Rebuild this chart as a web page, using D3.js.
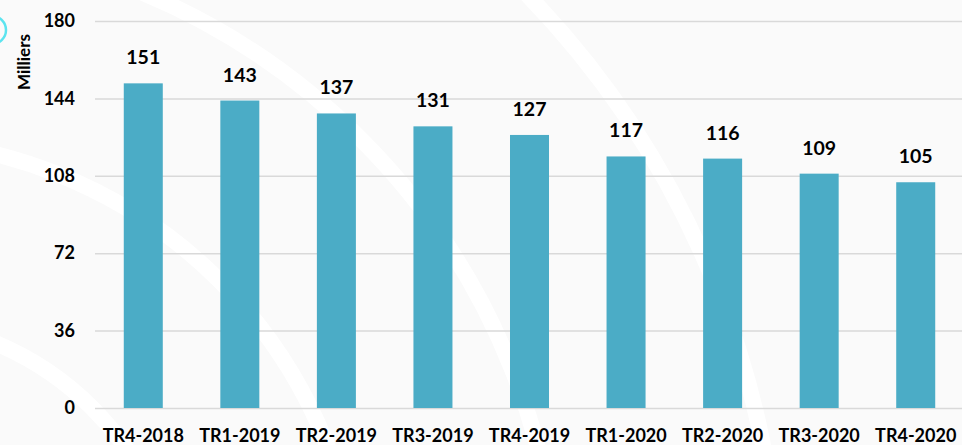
<!DOCTYPE html>
<html>
<head>
<meta charset="utf-8">
<script src="https://cdn.jsdelivr.net/npm/d3@7"></script>
<style>
  body { margin: 0; background: #fff; }
  svg { display: block; font-family: Lato, "Open Sans", sans-serif; }
</style>
</head>
<body>
<div id="chart"></div>
<script>
// quarters and values (milliers)
var quarters = ["TR4-2018", "TR1-2019", "TR2-2019", "TR3-2019", "TR4-2019",
                "TR1-2020", "TR2-2020", "TR3-2020", "TR4-2020"];
var values = [151, 143, 137, 131, 127, 117, 116, 109, 105];
var yTicks = [0, 36, 72, 108, 144, 180];
var yTitle = "Milliers";

var W = 962, H = 445;
var margin = {top: 21, right: -2, bottom: 37, left: 95};
var width = W - margin.left - margin.right,
    height = H - margin.top - margin.bottom;

var svg = d3.select("#chart").append("svg")
  .attr("width", W).attr("height", H);

// faint background
svg.append("rect").attr("width", W).attr("height", H).attr("fill", "#fafafa");
var arcs = svg.append("g").attr("fill", "none").attr("stroke", "#ffffff").attr("stroke-width", 16);
[300, 480, 680, 900].forEach(function(r) {
  arcs.append("circle").attr("cx", -120).attr("cy", 620).attr("r", r);
});
// cyan ring at the corner
svg.append("circle").attr("cx", -8).attr("cy", 30).attr("r", 14)
  .attr("fill", "none").attr("stroke", "#5ce4ef").attr("stroke-width", 2.5);

var g = svg.append("g").attr("transform", "translate(" + margin.left + "," + margin.top + ")");

var x = d3.scaleBand().domain(quarters).range([0, width]).paddingInner(0.596).paddingOuter(0.298);
var y = d3.scaleLinear().domain([0, 180]).range([height, 0]);

// gridlines
g.append("g")
  .call(d3.axisLeft(y).tickValues(yTicks).tickSize(-width).tickFormat(""))
  .call(function(a) { a.select(".domain").remove(); })
  .selectAll("line").attr("stroke", "#d9d9d9").attr("stroke-width", 1.5);

// y tick labels
g.append("g")
  .call(d3.axisLeft(y).tickValues(yTicks).tickSize(0).tickPadding(20))
  .call(function(a) { a.select(".domain").remove(); })
  .selectAll("text")
  .attr("font-family", "Lato, sans-serif")
  .attr("font-size", 18).attr("font-weight", "bold").attr("fill", "#000");

// bars
g.selectAll(".bar").data(values).join("rect")
  .attr("class", "bar")
  .attr("x", function(d, i) { return x(quarters[i]); })
  .attr("y", function(d) { return y(d); })
  .attr("width", x.bandwidth())
  .attr("height", function(d) { return y(0) - y(d); })
  .attr("fill", "#4bacc6");

// value labels
g.selectAll(".lbl").data(values).join("text")
  .attr("class", "lbl")
  .attr("x", function(d, i) { return x(quarters[i]) + x.bandwidth() / 2; })
  .attr("y", function(d) { return y(d) - 19; })
  .attr("text-anchor", "middle")
  .attr("font-size", 19.5).attr("font-weight", "bold").attr("fill", "#000")
  .text(function(d) { return d; });

// x axis
var xa = g.append("g").attr("transform", "translate(0," + height + ")")
  .call(d3.axisBottom(x).tickSize(0).tickPadding(21));
xa.select(".domain").remove();
xa.selectAll("text")
  .attr("font-family", "Lato, sans-serif")
  .attr("font-size", 18).attr("font-weight", "bold").attr("fill", "#000");

// y title
svg.append("text")
  .attr("transform", "translate(30,62) rotate(-90)")
  .attr("text-anchor", "middle")
  .attr("font-size", 17).attr("font-weight", "bold").attr("fill", "#000")
  .text(yTitle);
</script>
</body>
</html>
